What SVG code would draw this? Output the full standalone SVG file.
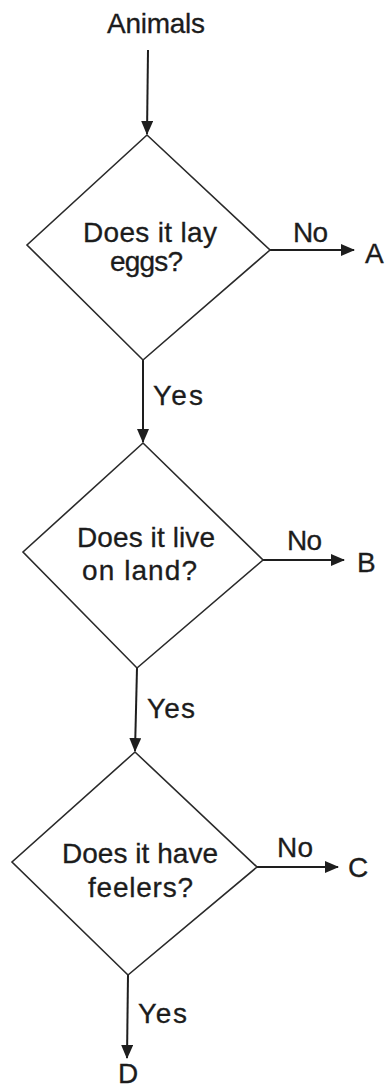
<svg xmlns="http://www.w3.org/2000/svg" width="385" height="1088" viewBox="0 0 385 1088">
  <style>
    .shape { fill: none; stroke: #2a2a2a; stroke-width: 1.6; stroke-linejoin: miter; }
    .line { fill: none; stroke: #1e1e1e; stroke-width: 2; }
    .t { font-family: "Liberation Sans", Arial, Helvetica, sans-serif; font-size: 28px; fill: #1c1c1c; stroke: #1c1c1c; stroke-width: 0.3; }
  </style>
  <defs>
    <marker id="arrow" markerUnits="userSpaceOnUse" markerWidth="14" markerHeight="12" viewBox="0 0 14 12" refX="13" refY="6" orient="auto">
      <path d="M0,0 L14,6 L0,12 Z" fill="#1e1e1e"/>
    </marker>
  </defs>
  <rect x="0" y="0" width="385" height="1088" fill="#ffffff"/>

  <g id="connectors">
    <line class="line" x1="148" y1="50" x2="147" y2="134" marker-end="url(#arrow)"/>
    <line class="line" x1="143" y1="360" x2="143" y2="442" marker-end="url(#arrow)"/>
    <line class="line" x1="137" y1="668" x2="135" y2="751" marker-end="url(#arrow)"/>
    <line class="line" x1="128" y1="975" x2="127" y2="1058" marker-end="url(#arrow)"/>
    <line class="line" x1="270" y1="250" x2="354" y2="250" marker-end="url(#arrow)"/>
    <line class="line" x1="263" y1="560" x2="344" y2="560" marker-end="url(#arrow)"/>
    <line class="line" x1="257" y1="867" x2="338" y2="867" marker-end="url(#arrow)"/>
    <text class="t" x="293" y="242" textLength="35">No</text>
    <text class="t" x="153" y="405" textLength="50">Yes</text>
    <text class="t" x="287" y="550" textLength="35">No</text>
    <text class="t" x="147" y="718" textLength="48">Yes</text>
    <text class="t" x="277" y="857" textLength="36">No</text>
    <text class="t" x="138" y="1023" textLength="49">Yes</text>
  </g>

  <g id="start">
    <text class="t" x="107" y="33" textLength="98">Animals</text>
  </g>

  <g id="q1">
    <polygon class="shape" points="147,135 270,250 143,360 27,245"/>
    <text class="t" x="83" y="242" textLength="134">Does it lay</text>
    <text class="t" x="110" y="271" textLength="73">eggs?</text>
  </g>

  <g id="q2">
    <polygon class="shape" points="143,443 263,560 137,668 23,552"/>
    <text class="t" x="77" y="547" textLength="138">Does it live</text>
    <text class="t" x="82" y="580" textLength="115">on land?</text>
  </g>

  <g id="q3">
    <polygon class="shape" points="135,752 257,867 128,975 12,862"/>
    <text class="t" x="62" y="863" textLength="156">Does it have</text>
    <text class="t" x="88" y="897" textLength="105">feelers?</text>
  </g>

  <g id="A"><text class="t" x="365" y="263">A</text></g>
  <g id="B"><text class="t" x="357" y="572">B</text></g>
  <g id="C"><text class="t" x="348" y="877">C</text></g>
  <g id="D"><text class="t" x="118" y="1083">D</text></g>
</svg>
